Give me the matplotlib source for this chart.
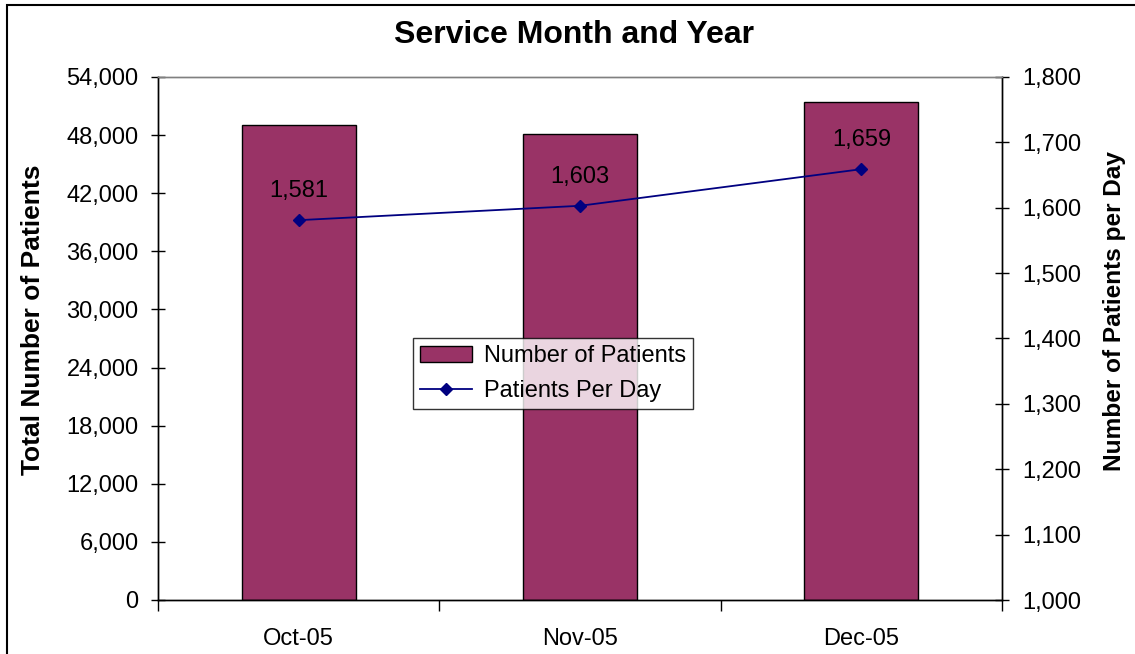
import matplotlib.pyplot as plt
import matplotlib.patches as mpatches
import numpy as np

plt.rcParams['font.family'] = ['Liberation Sans', 'DejaVu Sans']

months = ['Oct-05', 'Nov-05', 'Dec-05']
total_patients = [49011, 48090, 51429]
per_day = [1581, 1603, 1659]
left_ticks = list(range(0, 54001, 6000))
right_ticks = list(range(1000, 1801, 100))

fig = plt.figure(figsize=(11.35, 6.54), dpi=100)
ax = fig.add_axes([158/1135, 1-600/654, (1002-158)/1135, (600-77)/654])
ax2 = ax.twinx()

x = np.arange(len(months))
ax.bar(x, total_patients, width=0.405, color='#993366', edgecolor='black', linewidth=1,
       label='Number of Patients', zorder=2)
ax2.plot(x, per_day, color='#000080', marker='D', markersize=6.5, linewidth=1.3,
         label='Patients Per Day')
for xi, v in zip(x, per_day):
    ax2.annotate(f'{v:,}', (xi, v), xytext=(0, 21), textcoords='offset points',
                 ha='center', va='center', fontsize=17)

ax.set_xlim(-0.5, 2.5)
ax.set_ylim(0, 54000)
ax2.set_ylim(1000, 1800)
ax.set_yticks(left_ticks)
ax.set_yticklabels([f'{t:,}' for t in left_ticks], fontsize=17)
ax2.set_yticks(right_ticks)
ax2.set_yticklabels([f'{t:,}' for t in right_ticks], fontsize=17)
ax.set_xticks(x)
ax.set_xticklabels(months, fontsize=17)
ax.tick_params(axis='x', length=0, pad=20)
ax.set_xticks([0.5, 1.5, 2.5, -0.5], minor=True)
ax.tick_params(axis='x', which='minor', length=8, direction='out', width=1)
ax.tick_params(axis='y', direction='inout', length=10, width=1, pad=9)
ax2.tick_params(axis='y', direction='inout', length=10, width=1, pad=9.5)

for a in (ax, ax2):
    for s in ['left', 'right', 'bottom']:
        a.spines[s].set_color('black')
        a.spines[s].set_linewidth(1)
    a.spines['top'].set_color('#808080')
    a.spines['top'].set_linewidth(1)

ax.set_ylabel('Total Number of Patients', fontsize=19, fontweight='bold', va='center')
ax.yaxis.set_label_coords(-0.148, 0.535)
ax2.set_ylabel('Number of Patients per Day', fontsize=17.6, fontweight='bold', va='center')
ax2.yaxis.set_label_coords(1.133, 0.552)
fig.text(574/1135, 1-35/654, 'Service Month and Year', ha='center', va='center',
         fontsize=23, fontweight='bold')

h1, l1 = ax.get_legend_handles_labels()
h2, l2 = ax2.get_legend_handles_labels()
leg = ax2.legend(h1 + h2, l1 + l2, loc='lower left', bbox_to_anchor=(0.302, 0.365),
                 fontsize=17, frameon=True, fancybox=False, edgecolor='black',
                 borderpad=0.3, handlelength=2.2, labelspacing=0.55, handletextpad=0.5,
                 borderaxespad=0)
leg.get_frame().set_linewidth(1)

fig.patches.append(mpatches.Rectangle((7/1135, -0.1), 1.2, 1.1 - 5/654, transform=fig.transFigure,
                                      fill=False, edgecolor='black', linewidth=1.5))

fig.savefig('out.png', dpi=100)
